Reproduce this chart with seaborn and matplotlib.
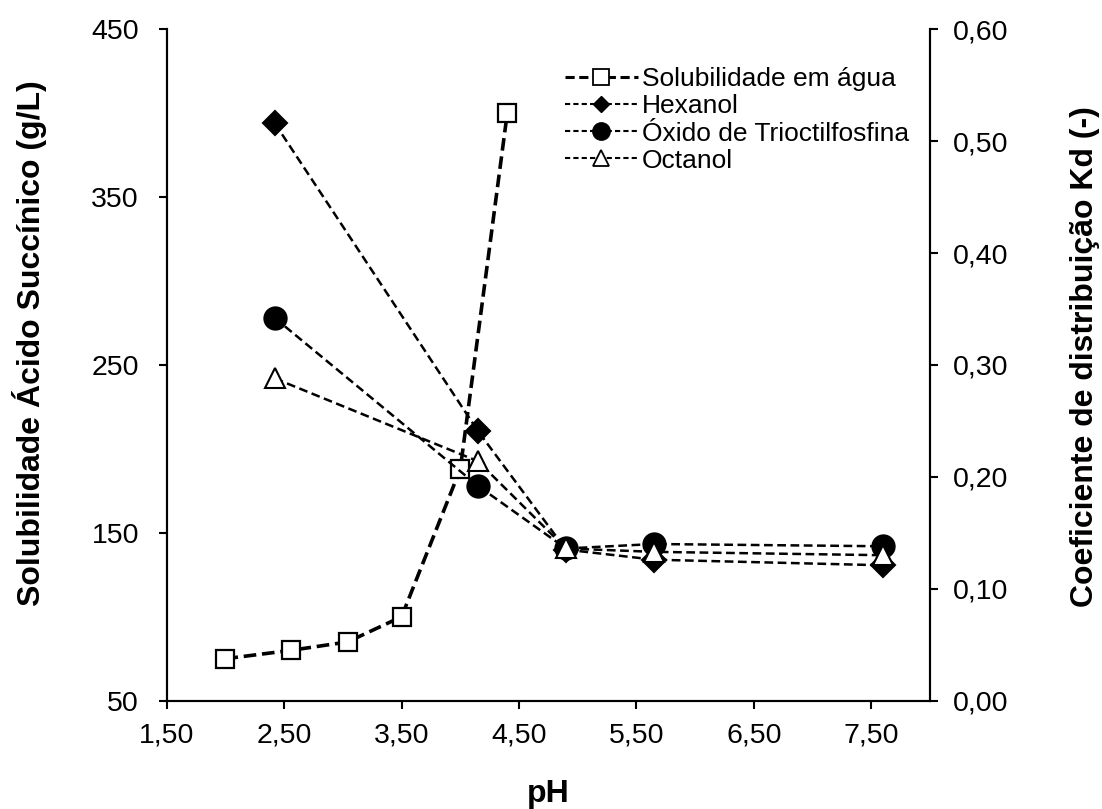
import matplotlib
matplotlib.use('Agg')
import matplotlib.pyplot as plt
from matplotlib.ticker import FuncFormatter
from matplotlib.lines import Line2D
import seaborn as sns

########################################
# DATA
########################################
ph_sol = [2.0, 2.56, 3.04, 3.5, 4.0, 4.4]
solubilidade = [75, 80, 85, 100, 188, 400]

ph_kd = [2.42, 4.15, 4.9, 5.65, 7.6]
kd_hexanol = [0.516, 0.241, 0.135, 0.126, 0.121]
kd_oxido = [0.342, 0.192, 0.136, 0.140, 0.138]
kd_octanol = [0.288, 0.214, 0.136, 0.133, 0.130]

labels = ["Solubilidade em água", "Hexanol", "Óxido de Trioctilfosfina", "Octanol"]

x_ticks = [1.5, 2.5, 3.5, 4.5, 5.5, 6.5, 7.5]
left_ticks = [50, 150, 250, 350, 450]
right_ticks = [0, 0.1, 0.2, 0.3, 0.4, 0.5, 0.6]

########################################
# STYLE
########################################
sns.set_style("ticks")
plt.rcParams['font.family'] = ['Liberation Sans', 'DejaVu Sans']
plt.rcParams['axes.linewidth'] = 1.5
for k in ['text.color', 'axes.labelcolor', 'xtick.color', 'ytick.color', 'axes.edgecolor']:
    plt.rcParams[k] = 'black'

fig = plt.figure(figsize=(11.02, 8.09), dpi=100)
fig.subplots_adjust(left=0.1513, right=0.8439, bottom=0.1339, top=0.9638)
ax = fig.add_subplot(111)
ax2 = ax.twinx()

comma = FuncFormatter(lambda v, p: f"{v:.2f}".replace('.', ','))

# left axis: solubility
sns.lineplot(x=ph_sol, y=solubilidade, ax=ax, color='black', linestyle=(0, (3.5, 1.6)),
             linewidth=2.6, marker='s', markersize=13.5, markerfacecolor='white',
             markeredgecolor='black', markeredgewidth=1.6)

# right axis: Kd
kd_series = [(kd_hexanol, 'D', 12, 'black'),
             (kd_oxido, 'o', 16, 'black'),
             (kd_octanol, '^', 15, 'white')]
for vals, mk, ms, fc in kd_series:
    sns.lineplot(x=ph_kd, y=vals, ax=ax2, color='black', linestyle=(0, (3.5, 1.8)),
                 linewidth=1.8, marker=mk, markersize=ms, markerfacecolor=fc,
                 markeredgecolor='black', markeredgewidth=1.5)

ax.set_xlim(1.5, 8.0)
ax.set_ylim(50, 450)
ax2.set_ylim(0, 0.6)
ax.set_xticks(x_ticks)
ax.set_yticks(left_ticks)
ax2.set_yticks(right_ticks)
ax.xaxis.set_major_formatter(comma)
ax2.yaxis.set_major_formatter(comma)

for a in (ax, ax2):
    a.spines['top'].set_visible(False)
    a.tick_params(direction='out', length=6, width=1.5, labelsize=20.5)
ax.tick_params(axis='x', pad=10)
ax.tick_params(axis='y', pad=14)
ax2.tick_params(axis='y', pad=10.5)

ax.set_xlabel("pH", fontsize=23, fontweight='bold', labelpad=22)
ax.set_ylabel("Solubilidade Ácido Succínico (g/L)", fontsize=23, fontweight='bold', labelpad=32)
ax2.set_ylabel("Coeficiente de distribuição Kd (-)", fontsize=23, fontweight='bold', labelpad=44)
ax.yaxis.label.set_y(0.5325)
ax2.yaxis.label.set_y(0.513)

handles = [
    Line2D([], [], color='black', linestyle=(0, (3, 1.5)), linewidth=2.2, marker='s',
           markersize=11, markerfacecolor='white', markeredgewidth=1.3),
    Line2D([], [], color='black', linestyle=(0, (2.5, 1.5)), linewidth=1.5, marker='D',
           markersize=8, markerfacecolor='black'),
    Line2D([], [], color='black', linestyle=(0, (2.5, 1.5)), linewidth=1.5, marker='o',
           markersize=12.5, markerfacecolor='black'),
    Line2D([], [], color='black', linestyle=(0, (2.5, 1.5)), linewidth=1.5, marker='^',
           markersize=11, markerfacecolor='white', markeredgewidth=1.3),
]
ax2.legend(handles, labels, loc='upper left', bbox_to_anchor=(0.508, 0.9593), frameon=False,
           fontsize=19, handlelength=2.76, handletextpad=0.15, labelspacing=0.12,
           borderaxespad=0)

plt.savefig("out.png", dpi=100)
plt.close()
